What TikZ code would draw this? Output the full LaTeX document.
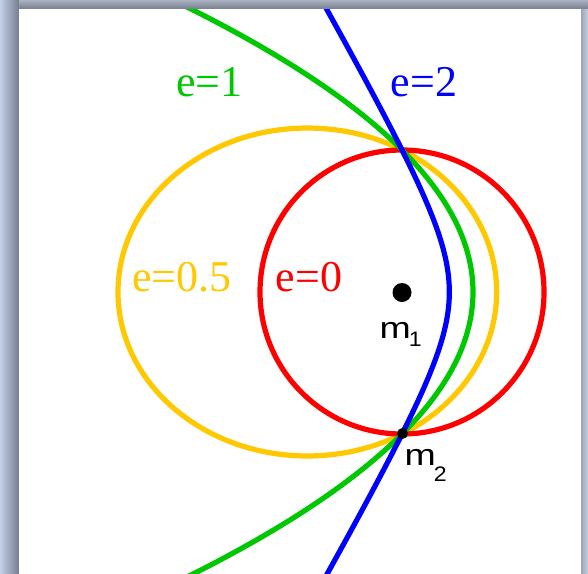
\documentclass[tikz,border=0pt]{standalone}
\usepackage{fontspec}
\setmainfont{Liberation Serif}
\newfontfamily\labsans{Liberation Sans}
\usepackage{graphicx}
\definecolor{cred}{RGB}{255,0,0}
\definecolor{cyel}{RGB}{255,200,0}
\definecolor{cgrn}{RGB}{0,200,0}
\definecolor{cblu}{RGB}{0,0,255}
\definecolor{frlight}{RGB}{196,208,230}
\definecolor{frdark}{RGB}{118,126,144}
\definecolor{frtop}{RGB}{150,158,176}
\tikzset{
  orbit/.style={line width=5.2pt},
  elabel/.style={anchor=base west, inner sep=0pt, font=\fontsize{44}{44}\selectfont},
  mlabel/.style={anchor=base west, inner sep=0pt, font=\labsans\fontsize{30}{30}\selectfont},
  mass/.style={circle, fill=black, inner sep=0pt}
}
\newcommand{\msub}[2]{\scalebox{1.25}[1]{m}\kern-2pt\raisebox{-#2}{\fontsize{21}{21}\selectfont\scalebox{1.1}[1]{#1}}}
\begin{document}
\begin{tikzpicture}[x=1pt,y=-1pt]
\useasboundingbox (0,0) rectangle (588,573);
% window frame / shadow
\shade[left color=frlight, right color=frdark] (0,0) rectangle (19,573);
\shade[top color=frtop!80!white, bottom color=frdark] (19,0) rectangle (588,9);
\shade[left color=frdark!70!white, right color=frlight] (581,9) rectangle (588,573);
\fill[white] (19,9) rectangle (581,573);
\begin{scope}
\clip (19,9) rectangle (581,573);
% e = 0.5 ellipse
\draw[orbit, cyel] (307.33,292) ellipse [x radius=189.33pt, y radius=163.97pt];
% e = 0 circle
\draw[orbit, cred] (402,292) circle [radius=142pt];
% e = 1 parabola
\draw[orbit, cgrn] plot[domain=-3.1:3.1, samples=120, smooth] ({473-\x*\x*35.211},{292+100*\x});
% e = 2 hyperbola
\draw[orbit, cblu] plot[domain=-2.1:2.1, samples=120, smooth] ({496.67-47.333*cosh(\x)},{292+81.98*sinh(\x)});
\end{scope}
% masses
\node[mass, minimum size=19pt] (m1) at (402,292.5) {};
\node[mass, minimum size=11pt] (m2) at (402.5,433.5) {};
% labels
\node[elabel, text=cgrn] (l1) at (176,96.5) {e=1};
\node[elabel, text=cblu] (l2) at (390.5,96.5) {e=2};
\node[elabel, text=cyel] (l05) at (132,291.7) {e=0.5};
\node[elabel, text=cred] (l0) at (275.7,291.7) {e=0};
\node[mlabel] (t1) at (379.5,338.3) {\msub{1}{8.4pt}};
\node[mlabel] (t2) at (404.5,465) {\msub{2}{16pt}};
\end{tikzpicture}
\end{document}
